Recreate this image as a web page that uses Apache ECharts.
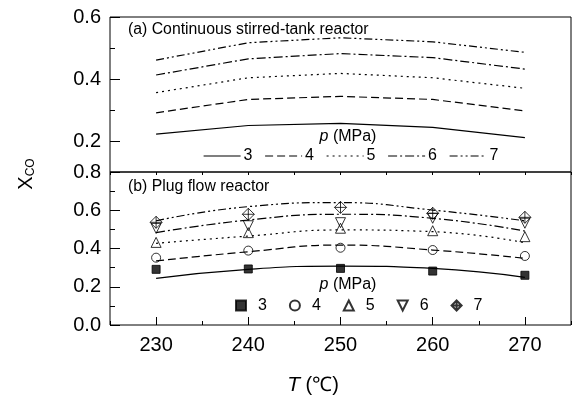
<!DOCTYPE html>
<html>
<head>
<meta charset="utf-8">
<script src="https://cdn.jsdelivr.net/npm/echarts@6/dist/echarts.min.js"></script>
<style>html,body{margin:0;padding:0;background:#fff}#c{width:573px;height:405px}</style>
</head>
<body>
<div id="c"></div>
<script>
// ---- data ----
var temps = [230, 240, 250, 260, 270];
var xTickLabels = [230, 240, 250, 260, 270];
var pressures = ['3', '4', '5', '6', '7'];
// (a) CSTR model
var cstr3 = [0.222, 0.250, 0.257, 0.244, 0.211];
var cstr4 = [0.291, 0.334, 0.344, 0.334, 0.297];
var cstr5 = [0.356, 0.404, 0.418, 0.404, 0.370];
var cstr6 = [0.413, 0.465, 0.482, 0.469, 0.432];
var cstr7 = [0.461, 0.517, 0.533, 0.520, 0.486];
// (b) PFR model
var pfr3 = [0.244, 0.291, 0.308, 0.296, 0.249];
var pfr4 = [0.335, 0.383, 0.418, 0.392, 0.349];
var pfr5 = [0.427, 0.465, 0.497, 0.488, 0.430];
var pfr6 = [0.483, 0.549, 0.579, 0.558, 0.491];
var pfr7 = [0.545, 0.619, 0.640, 0.601, 0.545];
// (b) experimental points
var exp3 = [0.291, 0.293, 0.296, 0.282, 0.260];
var exp4 = [0.352, 0.389, 0.404, 0.392, 0.361];
var exp5 = [0.432, 0.483, 0.506, 0.493, 0.462];
var exp6 = [0.505, 0.519, 0.535, 0.558, 0.532];
var exp7 = [0.537, 0.579, 0.615, 0.584, 0.563];
var topYTicks = [0.2, 0.4, 0.6];

var FONT = 'Liberation Sans, Arial, sans-serif';
function pairs(ys) { return temps.map(function (t, i) { return [t, ys[i]]; }); }

var dashes = ['solid', [8, 4], [2, 4], [9, 3, 2, 3], [8, 3, 2, 3, 2, 3]];
var cstr = [cstr3, cstr4, cstr5, cstr6, cstr7];
var pfr = [pfr3, pfr4, pfr5, pfr6, pfr7];
var exps = [exp3, exp4, exp5, exp6, exp7];
var symbols = ['rect', 'circle', 'triangle', 'path://M0,0 L2,0 L1,2 Z',
  'path://M1,0 L2,1 L1,2 L0,1 Z M1,0 L1,2 M0,1 L2,1'];
var symSizes = [8, 9, 10, 10, 12];

var series = [];
cstr.forEach(function (d, i) {
  series.push({ name: 'a' + pressures[i], type: 'line', xAxisIndex: 0, yAxisIndex: 0,
    data: pairs(d), symbol: 'none', lineStyle: { color: '#000', width: 1.2, type: dashes[i] },
    itemStyle: { color: '#000' }, silent: true, z: 3 });
});
pfr.forEach(function (d, i) {
  series.push({ name: 'm' + pressures[i], type: 'line', xAxisIndex: 1, yAxisIndex: 2,
    data: pairs(d), smooth: 0.5, symbol: 'none', lineStyle: { color: '#000', width: 1.2, type: dashes[i] },
    silent: true, z: 3 });
});
exps.forEach(function (d, i) {
  series.push({ name: 'b' + pressures[i], type: 'scatter', xAxisIndex: 1, yAxisIndex: 2,
    data: pairs(d), symbol: symbols[i], symbolSize: symSizes[i], symbolKeepAspect: true,
    itemStyle: { color: i === 0 ? '#000' : 'rgba(0,0,0,0)', borderColor: '#000', borderWidth: 1 },
    silent: true, z: 4 });
});

var chart = echarts.init(document.getElementById('c'), null, { renderer: 'canvas' });
chart.setOption({
  animation: false,
  backgroundColor: '#fff',
  grid: [
    { left: 110, top: 17, width: 461, height: 155, show: true, borderColor: '#000', borderWidth: 1 },
    { left: 110, top: 172, width: 461, height: 153, show: true, borderColor: '#000', borderWidth: 1 }
  ],
  xAxis: [
    { gridIndex: 0, type: 'value', position: 'bottom', min: 225, max: 275, interval: 5, axisLine: { show: false },
      axisTick: { show: false }, axisLabel: { show: false }, splitLine: { show: false } },
    { gridIndex: 1, type: 'value', position: 'bottom', min: 225, max: 275, interval: 5, axisLine: { show: false },
      axisTick: { show: true, inside: true, length: 4, lineStyle: { color: '#000' } },
      axisLabel: { show: false }, splitLine: { show: false } },
    { gridIndex: 1, type: 'value', position: 'bottom', min: 225, max: 275, axisLine: { show: false },
      axisTick: { show: true, inside: true, length: 8, customValues: xTickLabels, lineStyle: { color: '#000' } },
      axisLabel: { show: true, customValues: xTickLabels, color: '#000', fontSize: 20, fontFamily: FONT, margin: 10 },
      splitLine: { show: false } },
    { gridIndex: 1, type: 'value', position: 'top', min: 225, max: 275, interval: 5, axisLine: { show: false },
      axisTick: { show: true, inside: true, length: 3, lineStyle: { color: '#000' } },
      axisLabel: { show: false }, splitLine: { show: false } }
  ],
  yAxis: [
    { gridIndex: 0, type: 'value', position: 'left', min: 0.1, max: 0.6, interval: 0.1, axisLine: { show: false },
      axisTick: { show: true, inside: true, length: 5, lineStyle: { color: '#000' } },
      axisLabel: { show: false }, splitLine: { show: false } },
    { gridIndex: 0, type: 'value', position: 'left', min: 0.1, max: 0.6, axisLine: { show: false },
      axisTick: { show: true, inside: true, length: 10, customValues: topYTicks, lineStyle: { color: '#000' } },
      axisLabel: { show: true, customValues: topYTicks, color: '#000', fontSize: 20, fontFamily: FONT, margin: 9,
        formatter: function (v) { return v.toFixed(1); } },
      splitLine: { show: false } },
    { gridIndex: 1, type: 'value', position: 'left', min: 0, max: 0.8, interval: 0.2, axisLine: { show: false },
      axisTick: { show: true, inside: true, length: 10, lineStyle: { color: '#000' } },
      minorTick: { show: true, splitNumber: 2, length: 5, lineStyle: { color: '#000' } },
      axisLabel: { show: true, color: '#000', fontSize: 20, fontFamily: FONT, margin: 9,
        formatter: function (v) { return v.toFixed(1); } },
      splitLine: { show: false } }
  ],
  legend: [
    { data: pressures.map(function (p) { return 'a' + p; }), left: 203, top: 148, padding: 0, itemWidth: 37, itemHeight: 14,
      itemGap: 12, formatter: function (n) { return n.slice(1); }, selectedMode: false,
      itemStyle: { color: 'rgba(0,0,0,0)', borderColor: 'rgba(0,0,0,0)', borderWidth: 0 },
      lineStyle: { width: 1.2 },
      textStyle: { color: '#000', fontSize: 16, fontFamily: FONT, padding: [0, 0, 0, -2] } },
    { data: pressures.map(function (p) { return 'b' + p; }), left: 235, top: 297.5, padding: 0, itemWidth: 10, itemHeight: 10,
      itemGap: 22, formatter: function (n) { return n.slice(1); }, selectedMode: false,
      textStyle: { color: '#000', fontSize: 16, fontFamily: FONT, padding: [0, 0, 0, 7] } }
  ],
  graphic: [
    { type: 'text', left: 128, top: 22, style: { text: '(a) Continuous stirred-tank reactor', fill: '#000', fontSize: 15.8, fontFamily: FONT } },
    { type: 'text', left: 128, top: 179, style: { text: '(b) Plug flow reactor', fill: '#000', fontSize: 15.8, fontFamily: FONT } },
    { type: 'text', x: 348, y: 137, style: { text: '{i|p} (MPa)', align: 'center', verticalAlign: 'middle', fill: '#000', fontSize: 16, fontFamily: FONT,
      rich: { i: { fontStyle: 'italic', fontSize: 16, fontFamily: FONT } } } },
    { type: 'text', x: 348, y: 285, style: { text: '{i|p} (MPa)', align: 'center', verticalAlign: 'middle', fill: '#000', fontSize: 16, fontFamily: FONT,
      rich: { i: { fontStyle: 'italic', fontSize: 16, fontFamily: FONT } } } },
    { type: 'text', x: 313, y: 385, style: { text: '{i|T} (℃)', align: 'center', verticalAlign: 'middle', fill: '#000', fontSize: 20, fontFamily: FONT,
      rich: { i: { fontStyle: 'italic', fontSize: 21, fontFamily: FONT } } } },
    { type: 'text', x: 26, y: 174, rotation: Math.PI / 2, style: { text: '{x|X}{s|CO}', align: 'center', verticalAlign: 'middle', fill: '#000',
      rich: { x: { fontSize: 20, fontFamily: FONT }, s: { fontSize: 12, fontFamily: FONT, padding: [10, 0, 0, 0] } } } }
  ],
  series: series
});
</script>
</body>
</html>
